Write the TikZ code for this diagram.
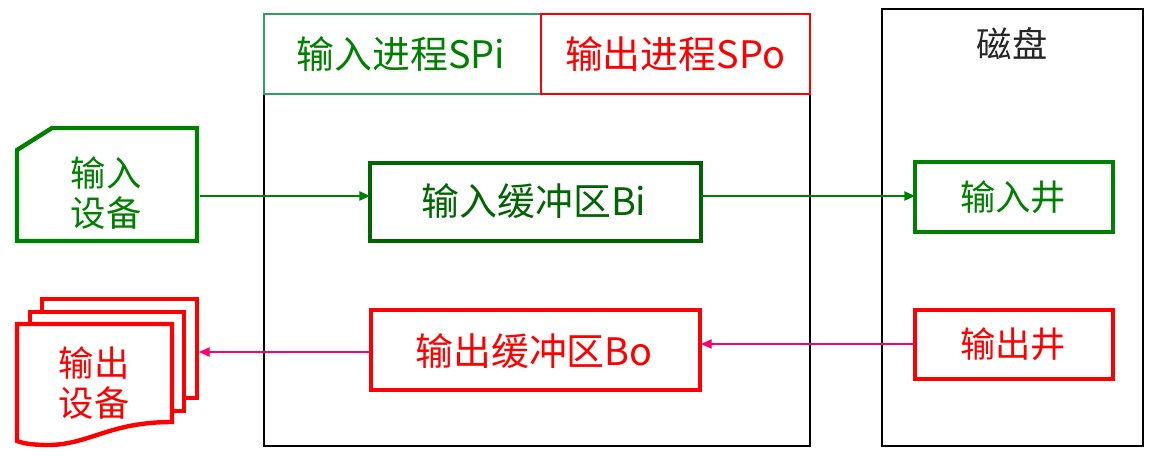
\documentclass[tikz,border=0pt]{standalone}
\usepackage{fontspec}
\setmainfont{Noto Sans CJK SC}
\usetikzlibrary{arrows.meta}
\definecolor{gr}{RGB}{0,128,0}
\definecolor{dgr}{RGB}{0,100,0}
\definecolor{sea}{RGB}{46,160,100}
\definecolor{rd}{RGB}{255,0,0}
\definecolor{pk}{RGB}{255,0,110}
\tikzset{
  x=0.75pt,y=-0.75pt,
  thick box/.style={line width=3.3pt,miter limit=10,fill=white,line join=miter},
  label txt/.style={inner sep=0pt,align=center},
  small txt/.style={label txt,font=\fontsize{26.5pt}{30pt}\selectfont},
  big txt/.style={label txt,font=\fontsize{28.4pt}{34pt}\selectfont},
  conn/.style={line width=1pt,-{Triangle[length=8pt,width=7pt]}},
  frame/.style={draw=black,line width=1.1pt},
  hdr/.style={line width=1.1pt},
}
\begin{document}
\begin{tikzpicture}
\useasboundingbox (0,0) rectangle (1155,457);
% frames
\draw[frame] (264,14) rectangle (810,446);
\draw[frame] (882,9) rectangle (1143,446);
\draw[hdr,draw=sea] (264,14) rectangle (541,94);
\draw[hdr,draw=rd] (541,14) rectangle (810,94);
% input device
\draw[thick box,draw=gr] (52,128) -- (197,128) -- (197,241) -- (17,241) -- (17,150) -- cycle;
\coordinate (devin) at (200,196);
% output device
\draw[thick box,draw=rd] (42,299) -- (197,299) -- (197,398) -- (42,398) -- cycle;
\draw[thick box,draw=rd] (30,312) -- (184,312) -- (184,411) -- (30,411) -- cycle;
\draw[thick box,draw=rd] (17,324) -- (172,324) -- (172,422)
  .. controls (110,422) and (90,444) .. (50,445)
  .. controls (35,445) and (25,444) .. (17,441) -- cycle;
\coordinate (devout) at (199,352);
% boxes
\draw[thick box,draw=dgr] (370,163) rectangle (701,241);
\draw[thick box,draw=rd] (371,310) rectangle (700,390);
\draw[thick box,draw=gr] (915,162) rectangle (1113,232);
\draw[thick box,draw=rd] (915,310) rectangle (1113,379);
% named anchors
\coordinate (bil) at (370,196);
\coordinate (bir) at (701,196);
\coordinate (wil) at (915,196);
\coordinate (wol) at (915,344);
\coordinate (bor) at (701,344);
\coordinate (bol) at (370,352);
% connectors
\draw[conn,draw=gr,fill=gr] (devin) -- (bil);
\draw[conn,draw=gr,fill=gr] (bir) -- (wil);
\draw[conn,draw=pk,fill=pk] (wol) -- (bor);
\draw[conn,draw=pk,fill=pk] (bol) -- (devout);
% text
\node[big txt,text=gr] (tspi) at (401,54) {输入进程SPi};
\node[big txt,text=rd] (tspo) at (675,54) {输出进程SPo};
\node[small txt,text=black!85] (tdisk) at (1012,44) {磁盘};
\node[small txt,text=gr] (tdi) at (106,193) {输入\\设备};
\node[small txt,text=rd] (tdo) at (94,383) {输出\\设备};
\node[big txt,text=dgr] (tbi) at (534,201) {输入缓冲区Bi};
\node[big txt,text=rd] (tbo) at (534,351) {输出缓冲区Bo};
\node[small txt,text=gr] (twi) at (1013,197) {输入井};
\node[small txt,text=rd] (two) at (1013,344) {输出井};
\end{tikzpicture}
\end{document}
